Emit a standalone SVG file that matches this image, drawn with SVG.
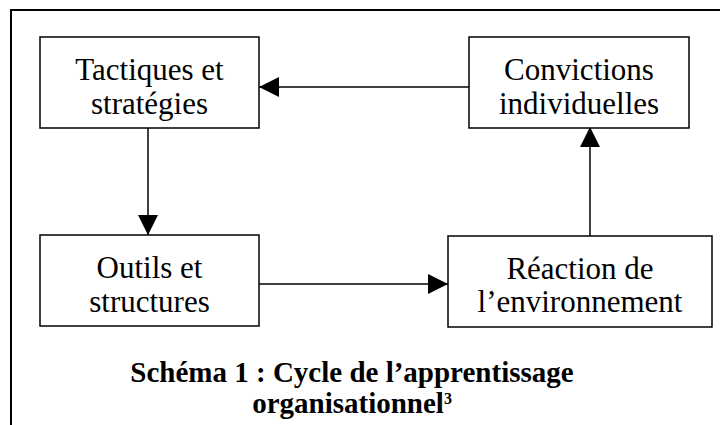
<svg xmlns="http://www.w3.org/2000/svg" width="720" height="425" viewBox="0 0 720 425">
<style>
.box{fill:#fff;stroke:#000;stroke-width:1.5}
.lbl{font-family:"Liberation Serif","Times New Roman",serif;font-size:31px;fill:#000;text-anchor:middle}
.cap{font-family:"Liberation Serif","Times New Roman",serif;font-size:29px;font-weight:bold;fill:#000;text-anchor:middle}
.con{stroke:#000;stroke-width:1.5;fill:none}
</style>
<defs>
<marker id="ah" markerWidth="20" markerHeight="20" refX="20" refY="10" orient="auto" markerUnits="userSpaceOnUse">
<path d="M0,0 L20,10 L0,20 Z" fill="#000"/>
</marker>
</defs>
<rect width="720" height="425" fill="#fff"/>
<path d="M11,425 V10 H720" fill="none" stroke="#000" stroke-width="2"/>
<g id="connectors">
<line class="con" x1="469" y1="87" x2="259" y2="87" marker-end="url(#ah)"/>
<line class="con" x1="148" y1="128" x2="148" y2="235" marker-end="url(#ah)"/>
<line class="con" x1="257" y1="284" x2="448" y2="284" marker-end="url(#ah)"/>
<line class="con" x1="590" y1="236" x2="590" y2="127" marker-end="url(#ah)"/>
</g>
<g id="n1">
<rect class="box" x="40" y="37" width="219" height="91"/>
<text class="lbl" x="149.5" y="80">Tactiques et</text>
<text class="lbl" x="149.5" y="114">stratégies</text>
</g>
<g id="n2">
<rect class="box" x="469" y="37" width="220" height="91"/>
<text class="lbl" x="579" y="80">Convictions</text>
<text class="lbl" x="579" y="114">individuelles</text>
</g>
<g id="n3">
<rect class="box" x="40" y="235" width="219" height="91"/>
<text class="lbl" x="149.5" y="278">Outils et</text>
<text class="lbl" x="149.5" y="312">structures</text>
</g>
<g id="n4">
<rect class="box" x="448" y="236" width="264" height="91"/>
<text class="lbl" x="580" y="279">Réaction de</text>
<text class="lbl" x="580" y="312">l’environnement</text>
</g>
<g id="caption">
<text class="cap" x="352" y="382">Schéma 1 : Cycle de l’apprentissage</text>
<text class="cap" x="352" y="413">organisationnel<tspan font-size="16" dy="-9">3</tspan></text>
</g>
</svg>
